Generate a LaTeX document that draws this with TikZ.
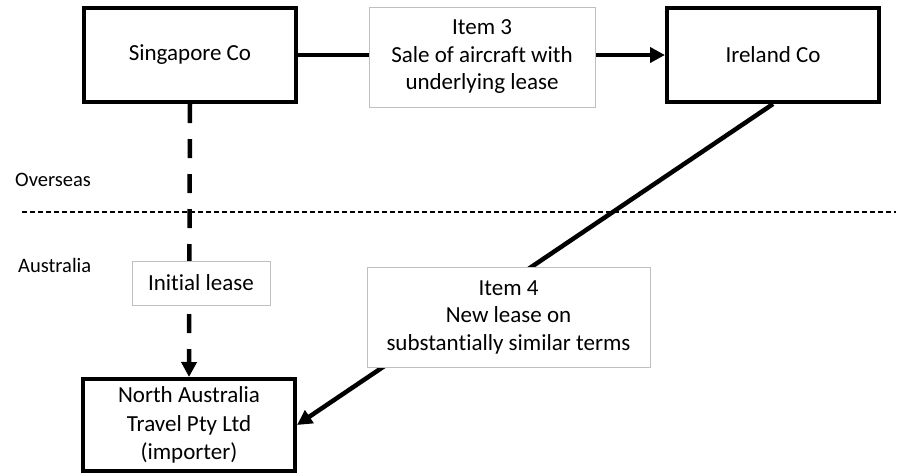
\documentclass[tikz,border=0pt]{standalone}
\usepackage{fontspec}
\setmainfont[Ligatures=NoCommon]{Carlito}
\usetikzlibrary{arrows.meta}

\begin{document}
\begin{tikzpicture}[x=1pt,y=-1pt]

\tikzset{party/.style = {shape=rectangle,draw,line width=4pt,minimum width=212pt,minimum height=94pt,inner sep=0pt,align=center,font=\fontsize{23}{28.5}\selectfont}}
\tikzset{note/.style = {shape=rectangle,draw=black!25,fill=white,line width=1pt,inner sep=0pt,align=center,font=\fontsize{23}{27.5}\selectfont}}
\tikzset{region/.style = {anchor=west,inner sep=0pt,font=\fontsize{20.5}{24}\selectfont}}
\tikzset{edge/.style = {-{Triangle[length=15pt,width=15pt]},line width=4.5pt}}
\tikzset{lease/.style = {edge,dash pattern=on 19pt off 16pt}}

\useasboundingbox (0,0) rectangle (898,475);
% vertices
\node[party] (sing) at (190,55) {Singapore Co};
\node[party] (ire) at (773,55) {Ireland Co};
\node[party,minimum height=92pt] (nat) at (189,425) {North Australia\\Travel Pty Ltd\\(importer)};
% regions
\node[region] (over) at (15,180) {Overseas};
\node[region] (aus) at (18,265) {Australia};
\coordinate (bl) at (22,212);
\coordinate (br) at (896,212);
\draw[line width=1.2pt,dash pattern=on 5pt off 3pt] (bl) -- (br);
%edges
\draw[edge] (sing) -- (ire);
\draw[lease] (sing.south) -- (nat.north);
\draw[edge] (ire.south) -- (nat.east);
% labels
\node[note,minimum width=226pt,minimum height=100pt] (item3) at (482,57) {Item 3\\Sale of aircraft with\\underlying lease};
\node[note,minimum width=138pt,minimum height=44pt] (init) at (201,283) {Initial lease};
\node[note,minimum width=283pt,minimum height=100pt] (item4) at (508.5,317) {Item 4\\New lease on\\substantially similar terms};
\end{tikzpicture}
\end{document}
